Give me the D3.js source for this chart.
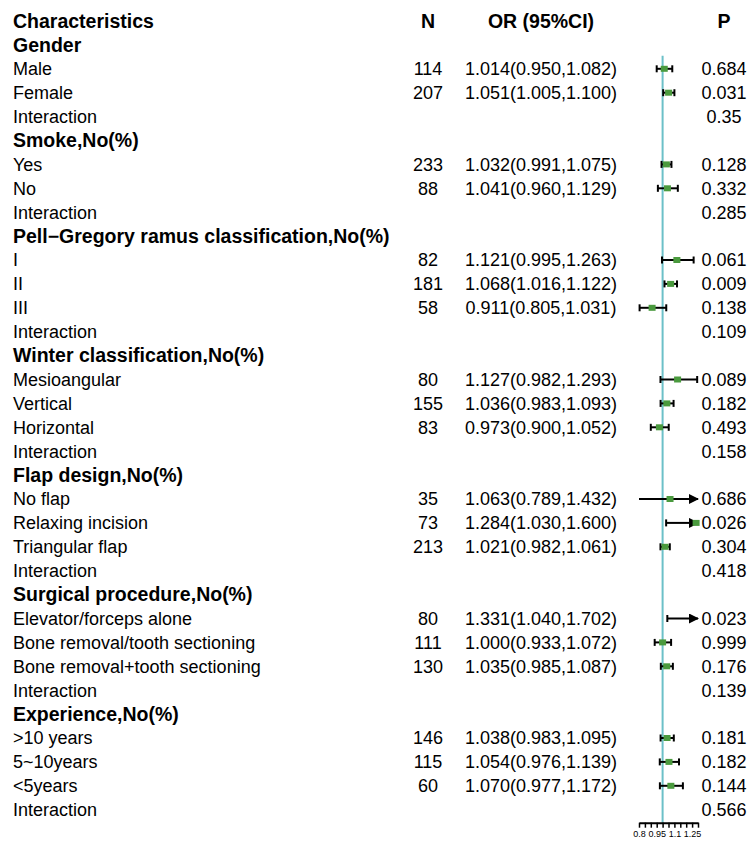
<!DOCTYPE html>
<html>
<head>
<meta charset="utf-8">
<script src="https://cdn.jsdelivr.net/npm/d3@7"></script>
<style>
  body { margin: 0; background: #fff; }
  text { font-family: "Liberation Sans", Arial, sans-serif; fill: #000; }
</style>
</head>
<body>
<div id="chart"></div>
<script>
// Rows of the table, top to bottom (header row is drawn separately)
const rowLabels = [
    "Gender", "Male", "Female", "Interaction",
    "Smoke,No(%)", "Yes", "No", "Interaction",
    "Pell\u2212Gregory ramus classification,No(%)", "I", "II", "III", "Interaction",
    "Winter classification,No(%)", "Mesioangular", "Vertical", "Horizontal", "Interaction",
    "Flap design,No(%)", "No flap", "Relaxing incision", "Triangular flap", "Interaction",
    "Surgical procedure,No(%)", "Elevator/forceps alone", "Bone removal/tooth sectioning", "Bone removal+tooth sectioning", "Interaction",
    "Experience,No(%)", ">10 years", "5~10years", "<5years", "Interaction"
]
const groupRows = ["Gender", "Smoke,No(%)", "Pell\u2212Gregory ramus classification,No(%)", "Winter classification,No(%)",
    "Flap design,No(%)", "Surgical procedure,No(%)", "Experience,No(%)"]

const nValues = [
    null, 114, 207, null,
    null, 233, 88, null,
    null, 82, 181, 58, null,
    null, 80, 155, 83, null,
    null, 35, 73, 213, null,
    null, 80, 111, 130, null,
    null, 146, 115, 60, null
]
const orValues = [
    null, 1.014, 1.051, null,
    null, 1.032, 1.041, null,
    null, 1.121, 1.068, 0.911, null,
    null, 1.127, 1.036, 0.973, null,
    null, 1.063, 1.284, 1.021, null,
    null, 1.331, 1.000, 1.035, null,
    null, 1.038, 1.054, 1.070, null
]
const lowerValues = [
    null, 0.950, 1.005, null,
    null, 0.991, 0.960, null,
    null, 0.995, 1.016, 0.805, null,
    null, 0.982, 0.983, 0.900, null,
    null, 0.789, 1.030, 0.982, null,
    null, 1.040, 0.933, 0.985, null,
    null, 0.983, 0.976, 0.977, null
]
const upperValues = [
    null, 1.082, 1.100, null,
    null, 1.075, 1.129, null,
    null, 1.263, 1.122, 1.031, null,
    null, 1.293, 1.093, 1.052, null,
    null, 1.432, 1.600, 1.061, null,
    null, 1.702, 1.072, 1.087, null,
    null, 1.095, 1.139, 1.172, null
]
const pValues = [
    "", "0.684", "0.031", "0.35",
    "", "0.128", "0.332", "0.285",
    "", "0.061", "0.009", "0.138", "0.109",
    "", "0.089", "0.182", "0.493", "0.158",
    "", "0.686", "0.026", "0.304", "0.418",
    "", "0.023", "0.999", "0.176", "0.139",
    "", "0.181", "0.182", "0.144", "0.566"
]
const headerLabels = ["Characteristics", "N", "OR (95%CI)", "P"]
const axisTicks = [0.8, 0.85, 0.9, 0.95, 1.0, 1.05, 1.1, 1.15, 1.2, 1.25, 1.3]
const axisLabels = [0.8, 0.95, 1.1, 1.25]
const axisDomain = [0.8, 1.3]

const WIDTH = 748
const HEIGHT = 843
const COL = {LABEL: 13, N: 428, OR: 541, P: 724}
const TEAL = "#6cc0c8"
const GREEN = "#4a9a3e"

const svg = d3.select("#chart").append("svg")
    .attr("width", WIDTH)
    .attr("height", HEIGHT)

// row index 0 is the header, data rows start at 1
const yScale = d3.scaleLinear().domain([0, rowLabels.length]).range([21, 21 + rowLabels.length * 23.9])
const xScale = d3.scaleLinear().domain(axisDomain).range([639, 698])
const fmt = d3.format(".3f")

// Header
const headerX = [COL.LABEL, COL.N, COL.OR, COL.P]
svg.selectAll(".hdr")
    .data(headerLabels)
    .join("text")
    .attr("x", (d, i) => headerX[i])
    .attr("y", yScale(0))
    .attr("dy", "0.35em")
    .attr("text-anchor", (d, i) => i == 0 ? "start" : "middle")
    .style("font-size", "19.5px")
    .style("font-weight", "bold")
    .text(d => d)

const rows = rowLabels.map((label, i) => ({
    label, i: i + 1,
    group: groupRows.includes(label),
    n: nValues[i], or: orValues[i], lo: lowerValues[i], hi: upperValues[i], p: pValues[i]
}))

// Labels
svg.selectAll(".lab")
    .data(rows)
    .join("text")
    .attr("x", COL.LABEL)
    .attr("y", d => yScale(d.i))
    .attr("dy", "0.35em")
    .style("font-size", d => d.group ? "19.5px" : "18px")
    .style("font-weight", d => d.group ? "bold" : "normal")
    .text(d => d.label)

// N column
svg.selectAll(".n")
    .data(rows.filter(d => d.n != null))
    .join("text")
    .attr("x", COL.N)
    .attr("y", d => yScale(d.i))
    .attr("dy", "0.35em")
    .attr("text-anchor", "middle")
    .style("font-size", "18px")
    .text(d => d.n)

// OR column
svg.selectAll(".or")
    .data(rows.filter(d => d.or != null))
    .join("text")
    .attr("x", COL.OR)
    .attr("y", d => yScale(d.i))
    .attr("dy", "0.35em")
    .attr("text-anchor", "middle")
    .style("font-size", "18px")
    .text(d => fmt(d.or) + "(" + fmt(d.lo) + "," + fmt(d.hi) + ")")

// P column
svg.selectAll(".p")
    .data(rows.filter(d => d.p != ""))
    .join("text")
    .attr("x", COL.P)
    .attr("y", d => yScale(d.i))
    .attr("dy", "0.35em")
    .attr("text-anchor", "middle")
    .style("font-size", "18px")
    .text(d => d.p)

// Reference line at OR = 1
svg.append("line")
    .attr("x1", xScale(1)).attr("x2", xScale(1))
    .attr("y1", yScale(1.45)).attr("y2", yScale(rowLabels.length) + 13)
    .attr("stroke", TEAL)
    .attr("stroke-width", 2)

// Arrow marker for clipped intervals
svg.append("defs").append("marker")
    .attr("id", "arrow")
    .attr("viewBox", "0 0 10 10")
    .attr("refX", 9).attr("refY", 5)
    .attr("markerWidth", 5).attr("markerHeight", 5)
    .attr("markerUnits", "strokeWidth")
    .attr("orient", "auto")
    .append("path")
    .attr("d", "M0,0 L10,5 L0,10 Z")
    .attr("fill", "#000")

const est = rows.filter(d => d.or != null)
const [xmin, xmax] = axisDomain
const ci = svg.append("g")

est.forEach(d => {
    const y = yScale(d.i)
    const lo = Math.max(d.lo, xmin)
    const hi = Math.min(d.hi, xmax)
    const line = ci.append("line")
        .attr("x1", xScale(lo)).attr("x2", xScale(hi))
        .attr("y1", y).attr("y2", y)
        .attr("stroke", "#000")
        .attr("stroke-width", 2)
    if (d.hi > xmax) line.attr("marker-end", "url(#arrow)")
    // end caps
    if (d.lo >= xmin)
        ci.append("line").attr("x1", xScale(d.lo)).attr("x2", xScale(d.lo))
            .attr("y1", y - 3.5).attr("y2", y + 3.5).attr("stroke", "#000").attr("stroke-width", 2)
    if (d.hi <= xmax)
        ci.append("line").attr("x1", xScale(d.hi)).attr("x2", xScale(d.hi))
            .attr("y1", y - 3.5).attr("y2", y + 3.5).attr("stroke", "#000").attr("stroke-width", 2)
    // point estimate
    if (d.or >= xmin && d.or <= xmax)
        ci.append("rect")
            .attr("x", xScale(d.or) - 3.5).attr("y", y - 3)
            .attr("width", 7).attr("height", 6)
            .attr("fill", GREEN)
})

// Axis
const axisY = yScale(rowLabels.length) + 13
const axis = svg.append("g")
    .attr("transform", "translate(0," + axisY + ")")
    .call(d3.axisBottom(xScale)
        .tickValues(axisTicks)
        .tickSize(5)
        .tickSizeOuter(0)
        .tickFormat(d => axisLabels.some(v => Math.abs(v - d) < 1e-9) ? d3.format("")(+d.toFixed(2)) : ""))
axis.select(".domain").attr("stroke-width", 2)
axis.selectAll(".tick line").attr("stroke-width", 1.5)
axis.selectAll(".tick text")
    .attr("y", 8)
    .style("font-size", "9px")
    .style("font-family", "'Liberation Sans', Arial, sans-serif")
</script>
</body>
</html>
